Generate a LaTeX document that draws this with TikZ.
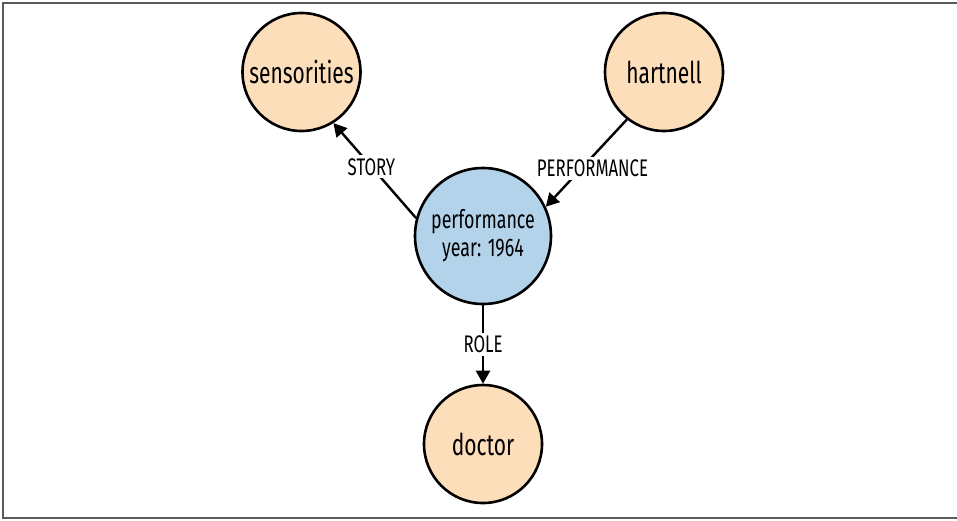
\documentclass[tikz,border=0pt]{standalone}
\usepackage{fontspec}
\setmainfont{Fira Sans}[FakeStretch=0.7]
\usetikzlibrary{arrows.meta}
\definecolor{peach}{RGB}{252,222,187}
\definecolor{skyb}{RGB}{178,211,234}
\definecolor{framegray}{RGB}{90,90,90}
\tikzset{
  entity/.style={circle, draw=black, line width=2.6pt, minimum size=#1, inner sep=0pt, align=center, font=\fontsize{30}{32}\selectfont},
  orangenode/.style={entity=118pt, fill=peach},
  bluenode/.style={entity=136pt, fill=skyb, font=\fontsize{25.5}{28}\selectfont},
  rel/.style={line width=2.4pt, -{Triangle[length=13pt,width=14pt]}},
  rellabel/.style={fill=white, inner sep=3pt, font=\fontsize{24}{26}\selectfont}
}
\begin{document}
\begin{tikzpicture}[x=1pt,y=-1pt]
\useasboundingbox (0,0) rectangle (957,520);
\draw[framegray, line width=2pt] (960,3) -- (3,3) -- (3,518) -- (960,518);
\node[orangenode] (sens) at (301.5,72) {sensorities};
\node[orangenode] (hart) at (664,72) {hartnell};
\node[bluenode] (perf) at (483,236) {performance\\year: 1964};
\node[orangenode] (doc) at (483,444) {doctor};
\draw[rel] (perf.165) -- node[rellabel, pos=0.54] {STORY} (sens.-58);
\draw[rel] (hart.232) -- node[rellabel, pos=0.56, xshift=11pt] {PERFORMANCE} (perf.25);
\draw[rel] (perf.south) -- node[rellabel] {ROLE} (doc.north);
\end{tikzpicture}
\end{document}
